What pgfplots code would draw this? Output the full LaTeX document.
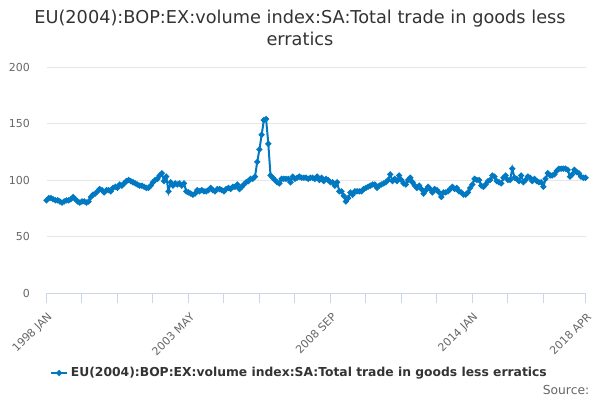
\documentclass[border=0pt]{standalone}
\usepackage{fontspec}
\setmainfont{DejaVu Sans}
\usepackage{pgfplots}
\usepackage{pgfplotstable}
\pgfplotsset{compat=1.18}
\definecolor{linec}{RGB}{0,120,194}
\definecolor{gridc}{RGB}{230,230,230}
\definecolor{axisc}{RGB}{204,214,235}
\definecolor{titlec}{RGB}{51,51,51}
\definecolor{labelc}{RGB}{102,102,102}
\pgfplotstableread{
m v
0 82
1 84
2 84
3 83
4 82
5 82
6 81
7 80
8 81
9 82
10 82
11 83
12 85
13 83
14 81
15 80
16 81
17 81
18 80
19 81
20 85
21 87
22 88
23 90
24 92
25 91
26 89
27 91
28 91
29 90
30 93
31 94
32 93
33 96
34 95
35 97
36 99
37 100
38 99
39 98
40 97
41 96
42 95
43 95
44 94
45 93
46 93
47 95
48 98
49 100
50 101
51 104
52 106
53 99
54 103
55 90
56 98
57 95
58 97
59 96
60 97
61 95
62 97
63 90
64 89
65 88
66 87
67 88
68 91
69 90
70 91
71 90
72 90
73 91
74 93
75 91
76 90
77 92
78 92
79 91
80 90
81 92
82 93
83 92
84 94
85 94
86 96
87 92
88 94
89 96
90 98
91 99
92 101
93 101
94 103
95 116
96 127
97 140
98 153
99 154
100 132
101 104
102 102
103 100
104 98
105 97
106 101
107 101
108 101
109 101
110 98
111 103
112 101
113 102
114 103
115 102
116 102
117 102
118 101
119 102
120 102
121 101
122 103
123 100
124 102
125 99
126 101
127 100
128 98
129 98
130 95
131 98
132 90
133 90
134 86
135 81
136 84
137 89
138 87
139 90
140 90
141 90
142 90
143 92
144 93
145 94
146 95
147 96
148 96
149 93
150 95
151 96
152 97
153 98
154 100
155 105
156 99
157 101
158 99
159 104
160 100
161 97
162 96
163 100
164 102
165 98
166 95
167 93
168 95
169 92
170 88
171 91
172 94
173 92
174 89
175 92
176 91
177 89
178 85
179 89
180 89
181 90
182 92
183 94
184 92
185 93
186 90
187 89
188 87
189 87
190 89
191 93
192 96
193 101
194 100
195 100
196 95
197 94
198 96
199 99
200 100
201 104
202 103
203 99
204 98
205 97
206 102
207 104
208 100
209 100
210 110
211 102
212 101
213 99
214 104
215 98
216 100
217 103
218 102
219 99
220 101
221 99
222 98
223 98
224 94
225 101
226 106
227 104
228 104
229 105
230 108
231 110
232 110
233 110
234 110
235 109
236 103
237 105
238 109
239 107
240 106
241 103
242 102
243 102
}\datatable
\begin{document}
\begin{tikzpicture}
\path[use as bounding box] (0pt,0pt) rectangle (450pt,300pt);
\node[text=titlec,font=\fontsize{13.3}{16.5}\selectfont,align=center] at (225pt,279pt)
  {EU(2004):BOP:EX:volume index:SA:Total trade in goods less\\erratics};
\begin{axis}[
  at={(34.875pt,80.25pt)}, anchor=south west,
  scale only axis, width=404.25pt, height=169.5pt,
  xmin=0, xmax=243, ymin=0, ymax=200,
  axis y line*=left, axis x line*=bottom,
  y axis line style={draw=none},
  x axis line style={draw=axisc, line width=0.75pt},
  ytick={0,50,100,150,200},
  ymajorgrids, grid style={gridc, line width=0.75pt},
  major y tick style={draw=none},
  xtick={0,64,128,192,243},
  xticklabels={1998 JAN,2003 MAY,2008 SEP,2014 JAN,2018 APR},
  minor xtick={16,32,48,80,96,112,144,160,176,208,224},
  x tick style={draw=axisc, line width=0.75pt},
  xtick align=outside, major tick length=7.5pt, minor tick length=7.5pt,
  tick label style={text=labelc, font=\fontsize{8.25}{10}\selectfont},
  xticklabel style={yshift=-9pt, xshift=3pt, anchor=east, rotate=45, inner sep=0pt},
  yticklabel style={anchor=east, xshift=-9pt},
  /pgf/number format/assume math mode=true,
  legend style={at={(0.47,-0.354)}, anchor=center, draw=none, fill=none,
    font=\bfseries\fontsize{9.25}{11}\selectfont, text=titlec},
  legend image code/.code={\draw[#1,mark=none] plot coordinates {(0pt,0pt)(12pt,0pt)};
    \draw[#1,only marks] plot coordinates {(6pt,0pt)};},
  clip=false,
]
\addplot[linec, line width=1.5pt, mark=*, mark size=1.4pt, mark options={solid}] table[x=m,y=v] {\datatable};
\addlegendentry{EU(2004):BOP:EX:volume index:SA:Total trade in goods less erratics}
\end{axis}
\node[anchor=east, text=labelc, font=\fontsize{9.25}{11}\selectfont] at (445.5pt,7.5pt) {Source:};
\end{tikzpicture}
\end{document}
